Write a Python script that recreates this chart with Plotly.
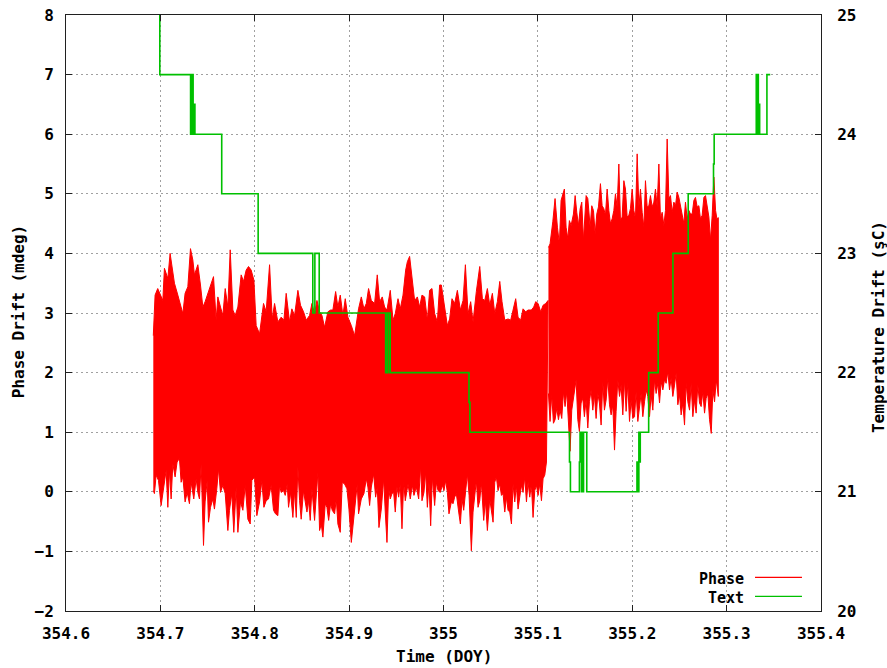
import numpy as np
import plotly.graph_objects as go

# ---------------- Data ----------------
# Phase, first segment: upper envelope (time in DOY, mdeg)
p1_top_t = [354.6925, 354.6944, 354.6972, 354.7026, 354.7043, 354.7079, 354.7103, 354.7132, 354.7149, 354.7185,
            354.7209, 354.7238, 354.7262, 354.7291, 354.7319, 354.7344, 354.7361, 354.7397, 354.7425, 354.7450,
            354.7474, 354.7503, 354.7538, 354.7563, 354.7591, 354.7609, 354.7637, 354.7662, 354.7687, 354.7715,
            354.7740, 354.7768, 354.7793, 354.7821, 354.7856, 354.7881, 354.7909, 354.7934, 354.7962, 354.7991,
            354.8015, 354.8051, 354.8093, 354.8121, 354.8157, 354.8185, 354.8210, 354.8245, 354.8280, 354.8309,
            354.8333, 354.8369, 354.8393, 354.8422, 354.8457, 354.8485, 354.8517, 354.8546, 354.8581, 354.8606,
            354.8634, 354.8659, 354.8687, 354.8712, 354.8740, 354.8775, 354.8804, 354.8828, 354.8857, 354.8881,
            354.8906, 354.8934, 354.8959, 354.8987, 354.9023, 354.9058, 354.9100, 354.9129, 354.9157, 354.9182,
            354.9206, 354.9235, 354.9270, 354.9298, 354.9323, 354.9351, 354.9376, 354.9401, 354.9436, 354.9465,
            354.9489, 354.9518, 354.9542, 354.9571, 354.9599, 354.9617, 354.9641, 354.9666, 354.9694, 354.9723,
            354.9747, 354.9772, 354.9800, 354.9829, 354.9853, 354.9878, 354.9906, 354.9935, 354.9959, 354.9977,
            355.0012, 355.0041, 355.0065, 355.0090, 355.0118, 355.0147, 355.0179, 355.0207, 355.0232, 355.0260,
            355.0288, 355.0313, 355.0348, 355.0384, 355.0412, 355.0437, 355.0465, 355.0490, 355.0518, 355.0543,
            355.0571, 355.0596, 355.0620, 355.0649, 355.0684, 355.0712, 355.0737, 355.0765, 355.0790, 355.0818,
            355.0843, 355.0871, 355.0896, 355.0931, 355.0956, 355.0977, 355.1002, 355.1030, 355.1055, 355.1083,
            355.1108]
p1_top_v = [2.62, 3.30, 3.41, 3.21, 3.75, 3.58, 4.00, 3.64, 3.50, 3.30,
            3.16, 2.99, 3.33, 3.44, 4.08, 3.89, 3.64, 3.81, 3.47, 3.10,
            3.19, 3.33, 3.47, 3.61, 2.88, 3.27, 3.10, 2.96, 3.41, 3.10,
            4.06, 3.05, 2.96, 3.10, 3.64, 3.53, 3.72, 3.78, 3.72, 3.55,
            2.79, 2.65, 3.16, 3.02, 3.81, 2.90, 3.16, 2.85, 2.93, 2.88,
            3.33, 2.85, 3.07, 2.96, 3.38, 3.13, 3.02, 2.88, 2.96, 3.16,
            2.99, 3.21, 3.02, 2.96, 2.76, 3.02, 3.05, 3.05, 3.36, 3.10,
            3.30, 2.96, 3.24, 2.93, 2.79, 2.62, 3.07, 3.27, 3.07, 3.16,
            3.41, 3.21, 3.16, 3.64, 3.19, 3.27, 3.10, 3.05, 3.38, 2.88,
            2.99, 3.24, 3.07, 3.30, 3.72, 3.86, 3.95, 3.58, 3.21, 3.27,
            3.10, 3.30, 3.27, 2.88, 3.38, 3.41, 2.99, 2.85, 3.47, 3.47,
            3.10, 2.79, 2.90, 3.24, 3.16, 3.38, 3.05, 3.21, 3.81, 2.99,
            3.19, 2.85, 3.36, 3.78, 3.24, 3.21, 3.41, 3.13, 3.33, 2.99,
            3.19, 3.53, 3.19, 2.88, 2.90, 2.88, 3.05, 3.24, 2.93, 2.88,
            3.07, 3.02, 3.05, 3.05, 3.10, 3.19, 3.16, 3.02, 3.13, 3.16,
            3.21]

# Phase, first segment: lower envelope
p1_bot_t = [354.6925, 354.6937, 354.6955, 354.6980, 354.7008, 354.7033, 354.7061, 354.7079, 354.7096, 354.7114,
            354.7132, 354.7156, 354.7177, 354.7202, 354.7220, 354.7238, 354.7262, 354.7284, 354.7308, 354.7326,
            354.7354, 354.7379, 354.7397, 354.7414, 354.7432, 354.7457, 354.7474, 354.7496, 354.7510, 354.7531,
            354.7556, 354.7573, 354.7598, 354.7616, 354.7637, 354.7662, 354.7687, 354.7715, 354.7732, 354.7757,
            354.7778, 354.7803, 354.7821, 354.7849, 354.7874, 354.7899, 354.7927, 354.7952, 354.7969, 354.7998,
            354.8022, 354.8051, 354.8075, 354.8097, 354.8121, 354.8146, 354.8174, 354.8199, 354.8220, 354.8245,
            354.8263, 354.8280, 354.8305, 354.8323, 354.8344, 354.8358, 354.8379, 354.8404, 354.8422, 354.8440,
            354.8457, 354.8475, 354.8492, 354.8517, 354.8535, 354.8553, 354.8570, 354.8588, 354.8606, 354.8634,
            354.8652, 354.8669, 354.8687, 354.8705, 354.8722, 354.8747, 354.8765, 354.8783, 354.8804, 354.8821,
            354.8846, 354.8864, 354.8881, 354.8906, 354.8927, 354.8952, 354.8977, 354.8998, 354.9023, 354.9047,
            354.9065, 354.9086, 354.9100, 354.9129, 354.9157, 354.9182, 354.9199, 354.9217, 354.9235, 354.9260,
            354.9281, 354.9298, 354.9316, 354.9341, 354.9366, 354.9383, 354.9401, 354.9419, 354.9436, 354.9454,
            354.9472, 354.9489, 354.9507, 354.9525, 354.9542, 354.9560, 354.9578, 354.9595, 354.9624, 354.9648,
            354.9670, 354.9687, 354.9712, 354.9737, 354.9758, 354.9772, 354.9793, 354.9811, 354.9829, 354.9846,
            354.9864, 354.9882, 354.9906, 354.9924, 354.9942, 354.9966, 354.9988, 355.0005, 355.0023, 355.0041,
            355.0058, 355.0083, 355.0101, 355.0118, 355.0136, 355.0161, 355.0179, 355.0196, 355.0214, 355.0232,
            355.0253, 355.0271, 355.0295, 355.0313, 355.0331, 355.0348, 355.0366, 355.0384, 355.0401, 355.0426,
            355.0444, 355.0465, 355.0490, 355.0507, 355.0525, 355.0543, 355.0560, 355.0578, 355.0596, 355.0614,
            355.0631, 355.0649, 355.0667, 355.0684, 355.0702, 355.0720, 355.0737, 355.0755, 355.0772, 355.0790,
            355.0808, 355.0826, 355.0843, 355.0861, 355.0879, 355.0896, 355.0914, 355.0931, 355.0949, 355.0967,
            355.0985, 355.1002, 355.1020, 355.1038, 355.1055, 355.1073, 355.1091]
p1_bot_v = [0.02, -0.03, 0.28, 0.19, -0.23, 0.08, 0.36, -0.26, 0.36, -0.12,
            0.47, 0.25, 0.50, 0.56, 0.16, 0.25, -0.17, -0.01, -0.20, 0.16,
            -0.12, 0.22, -0.01, -0.12, 0.47, -0.90, -0.17, 0.19, -0.51, -0.26,
            -0.12, -0.29, 0.05, 0.39, -0.01, 0.11, -0.03, -0.65, -0.31, -0.03,
            -0.68, 0.08, -0.68, -0.17, -0.31, 0.11, -0.46, -0.54, 0.19, 0.25,
            -0.40, -0.17, 0.19, -0.26, -0.15, -0.12, 0.11, -0.31, -0.37, -0.40,
            0.11, -0.01, 0.02, -0.06, 0.13, -0.26, -0.01, -0.43, 0.02, -0.43,
            0.42, -0.15, -0.46, 0.02, -0.17, -0.34, -0.15, -0.48, 0.05, -0.48,
            -0.12, 0.33, -0.65, -0.54, -0.76, -0.20, -0.26, -0.48, -0.20, -0.31,
            -0.37, -0.12, -0.54, -0.68, 0.16, 0.13, 0.05, -0.29, -0.85, -0.48,
            -0.23, 0.13, -0.37, -0.12, -0.03, 0.22, 0.08, -0.23, 0.08, 0.30,
            -0.09, 0.08, -0.60, -0.29, 0.22, -0.34, -0.85, 0.05, -0.12, -0.03,
            -0.01, -0.34, 0.08, -0.09, 0.13, -0.62, 0.16, -0.15, 0.13, -0.12,
            0.11, -0.06, 0.08, -0.12, 0.44, -0.15, -0.01, 0.33, -0.26, 0.16,
            -0.57, 0.25, -0.23, 0.16, 0.02, -0.01, 0.11, 0.02, 0.19, -0.01,
            -0.37, -0.17, -0.20, -0.09, -0.03, -0.34, -0.54, -0.12, -0.31, 0.02,
            0.30, -0.06, -0.99, -0.34, -0.06, 0.19, -0.26, -0.15, 0.16, -0.48,
            -0.15, -0.65, -0.12, -0.31, -0.51, 0.16, 0.25, 0.02, 0.13, -0.06,
            -0.03, -0.34, -0.09, -0.31, -0.34, -0.54, 0.13, -0.17, 0.11, -0.29,
            -0.12, 0.11, -0.01, 0.25, -0.17, 0.16, -0.09, 0.13, -0.43, 0.02,
            0.11, -0.06, 0.13, -0.15, 0.22, 0.28, 0.50]

# Phase, second segment: upper envelope
p2_top_t = [355.1112, 355.1129, 355.1158, 355.1182, 355.1207, 355.1228, 355.1246, 355.1264, 355.1281, 355.1299,
            355.1317, 355.1334, 355.1352, 355.1377, 355.1395, 355.1412, 355.1430, 355.1448, 355.1465, 355.1483,
            355.1511, 355.1529, 355.1554, 355.1571, 355.1589, 355.1607, 355.1624, 355.1642, 355.1663, 355.1681,
            355.1699, 355.1716, 355.1734, 355.1752, 355.1769, 355.1787, 355.1805, 355.1822, 355.1840, 355.1858,
            355.1875, 355.1893, 355.1911, 355.1928, 355.1946, 355.1964, 355.1981, 355.1999, 355.2017, 355.2034,
            355.2052, 355.2070, 355.2087, 355.2105, 355.2123, 355.2140, 355.2158, 355.2176, 355.2193, 355.2211,
            355.2229, 355.2246, 355.2264, 355.2282, 355.2299, 355.2317, 355.2335, 355.2352, 355.2370, 355.2388,
            355.2405, 355.2423, 355.2441, 355.2458, 355.2476, 355.2494, 355.2511, 355.2529, 355.2547, 355.2564,
            355.2582, 355.2600, 355.2617, 355.2635, 355.2653, 355.2670, 355.2688, 355.2706, 355.2723, 355.2741,
            355.2759, 355.2776, 355.2794, 355.2812, 355.2829, 355.2847, 355.2865, 355.2883, 355.2897, 355.2912]
p2_top_v = [4.10, 4.16, 4.53, 4.92, 4.44, 4.16, 4.89, 5.00, 5.08, 4.44,
            4.25, 4.55, 4.47, 4.66, 4.97, 4.69, 4.47, 4.75, 4.86, 4.22,
            4.97, 4.92, 4.44, 4.80, 4.72, 4.33, 4.66, 4.78, 5.17, 4.80,
            4.75, 4.64, 5.08, 4.72, 4.50, 4.58, 4.72, 5.00, 4.78, 5.50,
            4.55, 4.61, 5.22, 5.08, 4.61, 4.64, 4.75, 5.08, 4.72, 4.58,
            5.67, 4.78, 5.08, 4.69, 4.44, 5.22, 4.78, 4.80, 4.97, 4.78,
            4.86, 5.08, 4.78, 5.50, 4.58, 4.69, 4.47, 4.72, 5.92, 4.92,
            4.97, 4.69, 4.86, 4.80, 5.03, 4.94, 4.80, 4.66, 4.50, 4.86,
            4.58, 4.72, 4.66, 4.66, 4.89, 4.94, 4.78, 4.80, 4.58, 4.64,
            4.94, 4.97, 4.75, 4.61, 4.22, 4.64, 5.28, 4.72, 4.58, 4.60]

# Phase, second segment: lower envelope
p2_bot_t = [355.1112, 355.1129, 355.1147, 355.1165, 355.1182, 355.1200, 355.1218, 355.1235, 355.1253, 355.1271,
            355.1288, 355.1306, 355.1324, 355.1341, 355.1359, 355.1377, 355.1405, 355.1423, 355.1440, 355.1458,
            355.1476, 355.1493, 355.1511, 355.1529, 355.1546, 355.1564, 355.1582, 355.1599, 355.1617, 355.1635,
            355.1652, 355.1670, 355.1688, 355.1705, 355.1723, 355.1741, 355.1759, 355.1776, 355.1794, 355.1812,
            355.1829, 355.1847, 355.1865, 355.1882, 355.1900, 355.1918, 355.1935, 355.1953, 355.1971, 355.1988,
            355.2006, 355.2024, 355.2041, 355.2059, 355.2077, 355.2094, 355.2112, 355.2130, 355.2147, 355.2165,
            355.2183, 355.2200, 355.2218, 355.2236, 355.2253, 355.2271, 355.2289, 355.2306, 355.2324, 355.2342,
            355.2359, 355.2377, 355.2395, 355.2412, 355.2430, 355.2448, 355.2465, 355.2483, 355.2501, 355.2518,
            355.2536, 355.2554, 355.2571, 355.2589, 355.2607, 355.2624, 355.2642, 355.2660, 355.2677, 355.2695,
            355.2713, 355.2730, 355.2748, 355.2766, 355.2783, 355.2801, 355.2819, 355.2837, 355.2854, 355.2872,
            355.2890, 355.2912]
p2_bot_v = [1.65, 1.18, 1.63, 1.15, 1.21, 1.40, 1.21, 1.37, 1.23, 1.68,
            1.43, 1.68, 1.15, 0.68, 1.37, 1.54, 1.88, 1.21, 1.01, 1.49,
            1.57, 1.26, 1.54, 1.07, 1.51, 1.71, 1.37, 1.63, 1.23, 1.65,
            1.49, 1.12, 1.85, 1.37, 1.54, 1.91, 1.46, 1.29, 1.46, 0.70,
            1.35, 1.88, 1.60, 1.79, 1.29, 1.88, 1.35, 1.82, 1.18, 1.54,
            1.23, 1.26, 1.68, 1.18, 1.37, 1.65, 1.26, 1.51, 1.71, 1.60,
            1.26, 1.63, 1.37, 1.88, 1.65, 1.82, 1.49, 1.85, 1.71, 1.88,
            1.82, 2.02, 1.71, 1.91, 1.60, 1.79, 1.99, 1.46, 1.63, 1.29,
            1.49, 1.12, 1.82, 1.51, 1.37, 1.82, 1.26, 1.54, 1.32, 1.79,
            1.49, 1.43, 1.68, 1.32, 1.57, 1.65, 1.21, 0.98, 1.71, 1.51,
            1.88, 1.60]

# Temperature ("Text") step series, degrees C on the right axis
temp_t = [354.6994, 354.6994, 354.7320, 354.7335, 354.7347, 354.7363, 354.7366, 354.7650, 354.8036,
          354.8615, 354.8637, 354.8683, 354.9387, 354.9405, 354.9425, 354.9430, 354.9435,
          355.0270, 355.0280, 355.1335, 355.1345, 355.1440, 355.1447, 355.1462, 355.1468, 355.1478,
          355.1484, 355.1518, 355.2050, 355.2060, 355.2070, 355.2075, 355.2085, 355.2174, 355.2275,
          355.2431, 355.2593, 355.2861, 355.2868, 355.3314, 355.3322, 355.3328, 355.3336, 355.3340,
          355.3350, 355.3427, 355.3462]
temp_v = [25.0, 24.5, 24.0, 24.5, 24.0, 24.25, 24.0, 23.5, 23.0,
          22.5, 23.0, 22.5, 22.0, 22.5, 22.0, 22.5, 22.0,
          21.75, 21.5, 21.25, 21.0, 21.25, 21.5, 21.0, 21.5, 21.0,
          21.5, 21.0, 21.25, 21.0, 21.5, 21.25, 21.5, 22.0, 22.5,
          23.0, 23.5, 23.75, 24.0, 24.5, 24.0, 24.5, 24.0, 24.25,
          24.0, 24.5, 24.5]

x_ticks = [354.6, 354.7, 354.8, 354.9, 355.0, 355.1, 355.2, 355.3, 355.4]
x_tick_labels = ["354.6", "354.7", "354.8", "354.9", "355", "355.1", "355.2", "355.3", "355.4"]
legend_names = ["Phase", "Text"]

RED = "#ff0000"
GREEN = "#00c000"
FONT = dict(family="DejaVu Sans Mono", size=16, color="#000000", weight="bold")
LEG_FONT = dict(family="DejaVu Sans Mono", size=15, color="#000000", weight="bold")

fig = go.Figure()

for top_t, top_v, bot_t, bot_v in [(p1_top_t, p1_top_v, p1_bot_t, p1_bot_v),
                                   (p2_top_t, p2_top_v, p2_bot_t, p2_bot_v)]:
    xs = np.concatenate([top_t, bot_t[::-1]])
    ys = np.concatenate([top_v, bot_v[::-1]])
    fig.add_trace(go.Scatter(x=xs, y=ys, mode="lines", fill="toself", fillcolor=RED,
                             line=dict(color=RED, width=1), showlegend=False, hoverinfo="skip"))

fig.add_trace(go.Scatter(x=temp_t, y=temp_v, mode="lines", yaxis="y2",
                         line=dict(color=GREEN, width=1.6, shape="hv"), showlegend=False))

grid = dict(showgrid=True, gridcolor="#a0a0a0", griddash="2px,3px", gridwidth=1)
axis_common = dict(showline=True, linecolor="#202020", linewidth=1, ticks="inside", ticklen=6,
                   tickcolor="#202020", tickfont=FONT, zeroline=False, automargin=False)

fig.update_layout(
    width=887, height=668,
    margin=dict(l=66, r=66, t=15, b=57, autoexpand=False),
    paper_bgcolor="white", plot_bgcolor="white",
    showlegend=False,
    xaxis=dict(range=[354.6, 355.4], tickvals=x_ticks, ticktext=x_tick_labels, mirror="ticks",
               ticklabelstandoff=8, **grid, **axis_common),
    yaxis=dict(range=[-2, 8], dtick=1, tick0=0, mirror=True, ticklabelstandoff=8,
               **grid, **axis_common),
    yaxis2=dict(range=[20, 25], dtick=1, tick0=20, overlaying="y", side="right", showgrid=False,
                ticklabelstandoff=12, **axis_common),
)

annotations = [
    dict(text="Time (DOY)", x=0.5, y=-0.077, xref="paper", yref="paper", showarrow=False,
         xanchor="center", yanchor="middle", font=FONT),
    dict(text="Phase Drift (mdeg)", x=-0.0636, y=0.503, xref="paper", yref="paper", showarrow=False,
         textangle=-90, xanchor="center", yanchor="middle", font=FONT),
    dict(text="Temperature Drift (şC)", x=1.0755, y=0.4765, xref="paper", yref="paper", showarrow=False,
         textangle=-90, xanchor="center", yanchor="middle", font=FONT),
]
leg_y = [0.0545, 0.0225]
for name, yy, col in zip(legend_names, leg_y, [RED, GREEN]):
    annotations.append(dict(text=name, x=0.8993, y=yy, xref="paper", yref="paper", showarrow=False,
                            xanchor="right", yanchor="middle", font=LEG_FONT, borderpad=0))
    fig.add_shape(type="line", xref="paper", yref="paper", x0=0.9126, x1=0.9748, y0=yy + 0.002,
                  y1=yy + 0.002, line=dict(color=col, width=1.3))
fig.update_layout(annotations=annotations)

fig.write_html("out.html")
